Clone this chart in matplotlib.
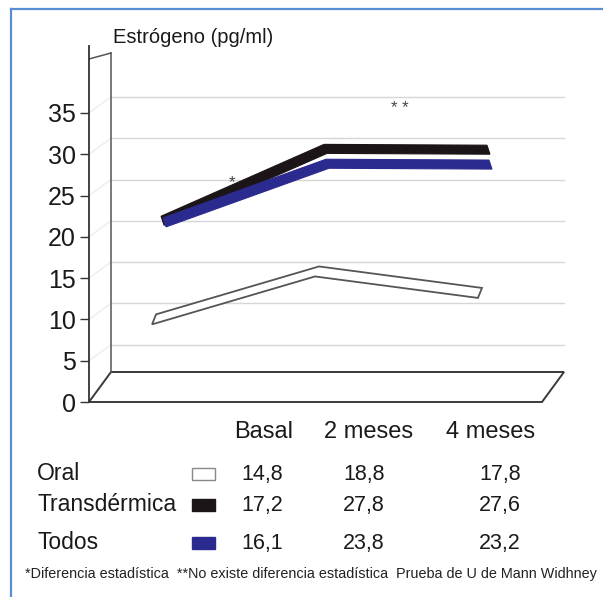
import numpy as np
import matplotlib
matplotlib.use("Agg")
import matplotlib.pyplot as plt
from matplotlib.patches import Polygon, Rectangle
from matplotlib.lines import Line2D

plt.rcParams['font.family'] = ['Liberation Sans', 'DejaVu Sans']

# ------------------------------------------------------------------ #
# data
# ------------------------------------------------------------------ #
periods = ['Basal', '2 meses', '4 meses']
groups = ['Oral', 'Transdérmica', 'Todos']

# values printed in the table under the chart
oral_table = [14.8, 18.8, 17.8]
trans_table = [17.2, 27.8, 27.6]
todos_table = [16.1, 23.8, 23.2]

# levels where the ribbons are drawn (front edge, read against the y axis)
oral_line = [9.4, 15.2, 12.6]
trans_line = [21.4, 30.1, 30.0]
todos_line = [21.2, 28.3, 28.2]

y_ticks = [0, 5, 10, 15, 20, 25, 30, 35]

footnote = ('*Diferencia estadística  **No existe diferencia estadística  '
            'Prueba de U de Mann Widhney')

# ------------------------------------------------------------------ #
# layout (pixels from the top-left corner)
# ------------------------------------------------------------------ #
W, H = 603, 597
fig = plt.figure(figsize=(W / 100, H / 100), dpi=100)
fig.patch.set_facecolor('white')

L, R, B, T = 89, 542, 402, 46          # front plane of the fake 3D box
XMIN, XMAX, YMAX = -0.387, 2.393, 43.1
ax = fig.add_axes([L / W, 1 - B / H, (R - L) / W, (B - T) / H])
ax.set_xlim(XMIN, XMAX)
ax.set_ylim(0, YMAX)
px_x = (R - L) / (XMAX - XMIN)
px_y = (B - T) / YMAX


def off(dx, dy):
    # pixel shift (dy positive = down) -> data shift
    return dx / px_x, -dy / px_y


def fpos(x, y):
    return x / W, 1 - y / H


for s in ['top', 'right', 'bottom']:
    ax.spines[s].set_visible(False)
ax.spines['left'].set_color('#333333')
ax.spines['left'].set_linewidth(1.3)
ax.set_xticks([])
ax.set_yticks(y_ticks)
ax.tick_params(axis='y', direction='out', length=6.5, width=1.0,
               color='#333333', labelsize=18, pad=3, labelcolor='#1a1a1a')
ax.patch.set_alpha(0)

# box depth: back wall / floor, gridlines sit a little lower on the wall
wx, wy = off(22, -30)
gx, gy = off(22, -16)

floor = Polygon([(XMIN, 0), (XMAX, 0), (XMAX + wx, wy), (XMIN + wx, wy)],
                closed=True, fc='white', ec='#3a3a3a', lw=1.4, clip_on=False, zorder=2)
ax.add_patch(floor)

top_front = (B - 59) / px_y
top_back = (B - 53) / px_y
ax.plot([XMIN + wx, XMIN + wx], [wy, top_back], color='#555555', lw=1.1, clip_on=False, zorder=2)
ax.plot([XMIN, XMIN + wx], [top_front, top_back], color='#555555', lw=1.1, clip_on=False, zorder=2)

for v in y_ticks[1:]:
    ax.plot([XMIN + gx, XMAX + wx], [v + gy, v + gy], color='#d6d6d6', lw=1.0,
            clip_on=False, zorder=1)
    ax.plot([XMIN, XMIN + gx], [v, v + gy], color='#ededed', lw=1.0,
            clip_on=False, zorder=1)


# ------------------------------------------------------------------ #
# ribbons
# ------------------------------------------------------------------ #
def ribbon(vals, shift_px, depth, fc, ec, lw):
    xs = np.arange(len(vals)) + shift_px / px_x
    ox, oy = off(*depth)
    front = list(zip(xs, vals))
    back = [(x + ox, y + oy) for x, y in front][::-1]
    ax.add_patch(Polygon(front + back, closed=True, fc=fc, ec=ec, lw=lw,
                         joinstyle='miter', clip_on=False, zorder=3))


ribbon(oral_line, 0, (4, -10), 'white', '#555555', 1.3)
ribbon(trans_line, 12, (-3, -9), '#1c1517', '#1c1517', 0.8)
ribbon(todos_line, 14, (-3, -9), '#2b2a8e', '#2b2a8e', 0.8)

# significance marks
ax.text(0.49, 26.0, '*', fontsize=12, color='#444444', ha='center', va='baseline')
ax.text(1.52, 35.0, '* *', fontsize=12, color='#444444', ha='center', va='baseline')

# ------------------------------------------------------------------ #
# title, table, footnote
# ------------------------------------------------------------------ #
fig.text(*fpos(113, 43), 'Estrógeno (pg/ml)', fontsize=14.5, va='baseline',
         color='#1a1a1a')

col_x = [264, 369, 491]
num_x = [262, 364, 500]
row_y = [480, 511, 549]
for cx, p in zip(col_x, periods):
    fig.text(*fpos(cx, 438), p, fontsize=17, ha='center', va='baseline', color='#1a1a1a')

swatch = [('white', '#888888'), ('#1c1517', '#1c1517'), ('#2b2a8e', '#2b2a8e')]
for ry, g, vals, (fc, ec) in zip(row_y, groups,
                                 [oral_table, trans_table, todos_table], swatch):
    fig.text(*fpos(37, ry), g, fontsize=16.5, ha='left', va='baseline', color='#1a1a1a')
    fig.add_artist(Rectangle(fpos(192, ry), 23 / W, 12 / H, transform=fig.transFigure,
                             fc=fc, ec=ec, lw=1.0))
    for nx, v in zip(num_x, vals):
        fig.text(*fpos(nx, ry), f'{v:.1f}'.replace('.', ','), fontsize=15.5,
                 ha='center', va='baseline', color='#1a1a1a')

fig.text(*fpos(25, 578), footnote, fontsize=10.4, ha='left', va='baseline',
         color='#222222')

# blue frame (top and left edge)
fig.add_artist(Line2D([11 / W, 1], [1 - 9 / H, 1 - 9 / H], color='#5b8dd4', lw=1.6))
fig.add_artist(Line2D([11 / W, 11 / W], [0, 1 - 9 / H], color='#5b8dd4', lw=1.6))

fig.savefig('out.png', dpi=100, facecolor='white')
